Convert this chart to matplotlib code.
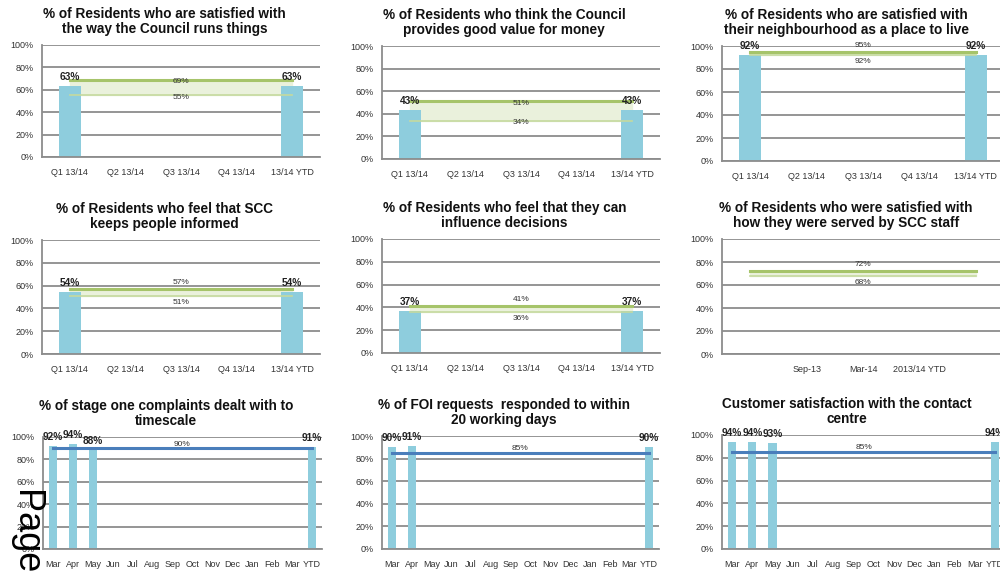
import matplotlib.pyplot as plt
import numpy as np

plt.rcParams['font.family'] = ['Liberation Sans', 'DejaVu Sans']

nan = np.nan

# category labels
quarters = ['Q1 13/14', 'Q2 13/14', 'Q3 13/14', 'Q4 13/14', '13/14 YTD']
survey_periods = ['', 'Sep-13', 'Mar-14', '2013/14 YTD', '']
months = ['Mar', 'Apr', 'May', 'Jun', 'Jul', 'Aug', 'Sep', 'Oct', 'Nov',
          'Dec', 'Jan', 'Feb', 'Mar', 'YTD']

# residents survey results (%), with the target band (low, high)
council_runs = [63, nan, nan, nan, 63]
council_runs_band = [55, 69]
value_for_money = [43, nan, nan, nan, 43]
value_for_money_band = [34, 51]
neighbourhood = [92, nan, nan, nan, 92]
neighbourhood_band = [92, 95]
kept_informed = [54, nan, nan, nan, 54]
kept_informed_band = [51, 57]
influence = [37, nan, nan, nan, 37]
influence_band = [36, 41]
served_by_staff = [nan, nan, nan, nan, nan]
served_by_staff_band = [68, 72]

# monthly performance (%), with a single target
complaints = [92, 94, 88] + [nan] * 10 + [91]
complaints_target = 90
foi = [90, 91] + [nan] * 11 + [90]
foi_target = 85
contact_centre = [94, 94, 93] + [nan] * 10 + [94]
contact_centre_target = 85

BAR = '#8ECDDD'
GRID = '#8C8C8C'
TXT = '#333333'

fig = plt.figure(figsize=(10, 5.73), dpi=100)


def make_axes(l, t, r, b):
    return fig.add_axes([l / 1000, 1 - b / 573, (r - l) / 1000, (b - t) / 573])


def style(ax, labels, title):
    ax.set_ylim(0, 100)
    ax.set_yticks(range(0, 101, 20))
    ax.set_yticklabels([f'{v}%' for v in range(0, 101, 20)])
    ax.set_xticks(range(len(labels)))
    ax.set_xticklabels(labels)
    ax.set_xlim(-0.5, len(labels) - 0.5)
    ax.grid(axis='y', color=GRID, lw=1.3)
    ax.set_axisbelow(True)
    for s in ['top', 'right']:
        ax.spines[s].set_visible(False)
    for s in ['left', 'bottom']:
        ax.spines[s].set_color(GRID)
        ax.spines[s].set_linewidth(1.3)
    ax.tick_params(length=0, labelsize=6.5, labelcolor=TXT)
    ax.tick_params(axis='y', pad=6)
    ax.tick_params(axis='x', pad=8)
    ax.annotate(title, xy=(0.44, 1), xycoords='axes fraction',
                xytext=(0, 6.5), textcoords='offset points',
                ha='center', va='bottom', fontsize=9.8, fontweight='bold',
                color='#111111', linespacing=1.12)


def bars(ax, vals, width=0.4):
    x = np.arange(len(vals))
    ax.bar(x, vals, width=width, color=BAR)
    for i, v in enumerate(vals):
        if not np.isnan(v):
            ax.annotate(f'{v}%', xy=(i, v), xytext=(0, 3),
                        textcoords='offset points', ha='center', va='bottom',
                        fontsize=7.3, fontweight='bold', color='#222222')


def band(ax, lo, hi, n):
    x = [0, n - 1]
    ax.fill_between(x, lo, hi, color='#EAF1DC', zorder=1)
    ax.plot(x, [hi, hi], color='#A6C46A', lw=2.2, zorder=2)
    ax.plot(x, [lo, lo], color='#C5DA9E', lw=1.2, zorder=2)
    mid = (n - 1) / 2
    if hi - lo < 10:
        ax.annotate(f'{hi}%', xy=(mid, hi), xytext=(0, 2), textcoords='offset points',
                    ha='center', va='bottom', fontsize=6, color=TXT)
        ax.annotate(f'{lo}%', xy=(mid, lo), xytext=(0, -2), textcoords='offset points',
                    ha='center', va='top', fontsize=6, color=TXT)
    else:
        for v in (hi, lo):
            ax.annotate(f'{v}%', xy=(mid, v), xytext=(0, -1.5), textcoords='offset points',
                        ha='center', va='center', fontsize=6, color=TXT)


def target(ax, t, n):
    ax.plot([0, n - 1], [t, t], color='#4A7EBB', lw=2.2, zorder=3)
    ax.annotate(f'{t}%', xy=((n - 1) / 2, t), xytext=(0, 0.5),
                textcoords='offset points', ha='center', va='bottom',
                fontsize=6, color=TXT)


# row 1
ax = make_axes(42, 45, 320, 157)
style(ax, quarters, '% of Residents who are satisfied with\nthe way the Council runs things')
band(ax, *council_runs_band, len(quarters))
bars(ax, council_runs)

ax = make_axes(382, 46, 660, 159)
style(ax, quarters, '% of Residents who think the Council\nprovides good value for money')
band(ax, *value_for_money_band, len(quarters))
bars(ax, value_for_money)

ax = make_axes(722, 46, 1004, 161)
style(ax, quarters, '% of Residents who are satisfied with\ntheir neighbourhood as a place to live')
band(ax, *neighbourhood_band, len(quarters))
bars(ax, neighbourhood)

# row 2
ax = make_axes(42, 240, 320, 354)
style(ax, quarters, '% of Residents who feel that SCC\nkeeps people informed')
band(ax, *kept_informed_band, len(quarters))
bars(ax, kept_informed)

ax = make_axes(382, 239, 660, 353)
style(ax, quarters, '% of Residents who feel that they can\ninfluence decisions')
band(ax, *influence_band, len(quarters))
bars(ax, influence)

ax = make_axes(722, 239, 1004, 354)
style(ax, survey_periods, '% of Residents who were satisfied with\nhow they were served by SCC staff')
band(ax, *served_by_staff_band, len(survey_periods))
bars(ax, served_by_staff)

# row 3
ax = make_axes(43, 437, 322, 549)
style(ax, months, '% of stage one complaints dealt with to\ntimescale')
target(ax, complaints_target, len(months))
bars(ax, complaints)

ax = make_axes(382, 436, 659, 549)
style(ax, months, '% of FOI requests  responded to within\n20 working days')
target(ax, foi_target, len(months))
bars(ax, foi)

ax = make_axes(722, 435, 1005, 549)
style(ax, months, 'Customer satisfaction with the contact\ncentre')
target(ax, contact_centre_target, len(months))
bars(ax, contact_centre)

fig.text(0.008, 1 - 490 / 573, 'Page', rotation=270, fontsize=26,
         ha='left', va='top', color='black')

fig.savefig('out.png', dpi=100)
